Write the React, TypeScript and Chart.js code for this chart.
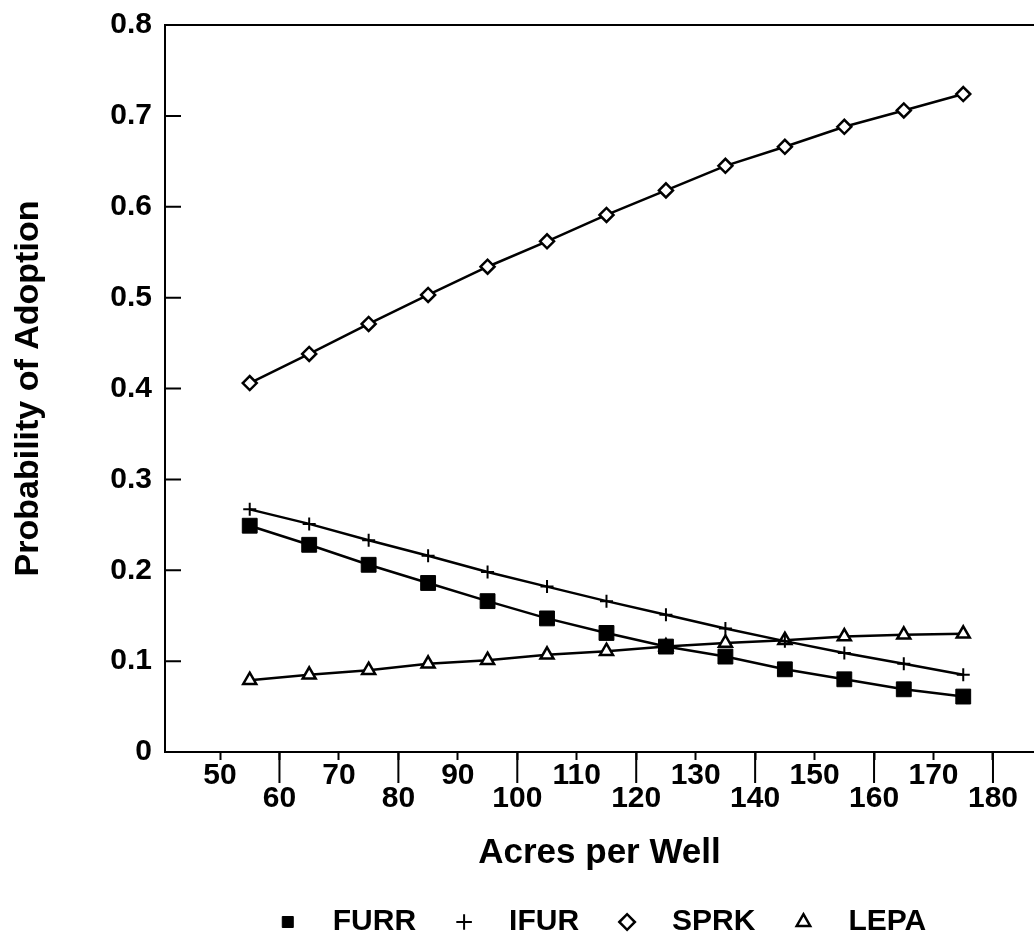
import React, { useEffect, useRef } from 'react';
import { Chart, registerables } from 'chart.js';

Chart.register(...registerables);

const acresPerWell = [55, 65, 75, 85, 95, 105, 115, 125, 135, 145, 155, 165, 175];
const furrValues = [0.249, 0.228, 0.206, 0.186, 0.166, 0.147, 0.131, 0.116, 0.105, 0.091, 0.080, 0.069, 0.061];
const ifurValues = [0.267, 0.251, 0.233, 0.216, 0.198, 0.182, 0.166, 0.151, 0.136, 0.122, 0.109, 0.097, 0.085];
const sprkValues = [0.406, 0.438, 0.471, 0.503, 0.534, 0.562, 0.591, 0.618, 0.645, 0.666, 0.688, 0.706, 0.724];
const lepaValues = [0.079, 0.085, 0.090, 0.097, 0.101, 0.107, 0.111, 0.116, 0.120, 0.123, 0.127, 0.129, 0.130];
const seriesNames = ['FURR', 'IFUR', 'SPRK', 'LEPA'];
const xAxisTitle = 'Acres per Well';
const yAxisTitle = 'Probability of Adoption';

const FONT = '"Liberation Sans", Arial, Helvetica, sans-serif';
const W = 1034;
const H = 950;

const toPoints = (vals: number[]) => acresPerWell.map((x, i) => ({ x, y: vals[i] }));

const framePlugin = {
  id: 'frameTicks',
  afterDraw(chart: any) {
    const { ctx, chartArea, scales } = chart;
    const { left, right, top, bottom } = chartArea;
    ctx.save();
    ctx.strokeStyle = '#000';
    ctx.lineWidth = 2;
    ctx.beginPath();
    ctx.moveTo(left - 1, top);
    ctx.lineTo(right, top);
    scales.y.ticks.forEach((t: any) => {
      const py = scales.y.getPixelForValue(t.value);
      ctx.moveTo(left, py);
      ctx.lineTo(left + 16, py);
    });
    scales.x.ticks.forEach((t: any) => {
      if (Math.round(t.value / 10) % 2 === 0) {
        const px = scales.x.getPixelForValue(t.value);
        ctx.moveTo(px, bottom);
        ctx.lineTo(px, bottom + 31);
      }
    });
    ctx.stroke();
    ctx.restore();
  },
};

export default function App() {
  const canvasRef = useRef<HTMLCanvasElement | null>(null);

  useEffect(() => {
    if (!canvasRef.current) return;
    const common = {
      borderColor: '#000',
      borderWidth: 2.5,
      pointBorderColor: '#000',
      tension: 0,
      fill: false,
    };
    const chart = new Chart(canvasRef.current, {
      type: 'line',
      data: {
        datasets: [
          {
            ...common,
            label: seriesNames[0],
            data: toPoints(furrValues),
            pointStyle: 'rect',
            pointRadius: 10.5,
            pointBackgroundColor: '#000',
            pointBorderWidth: 1,
          },
          {
            ...common,
            label: seriesNames[1],
            data: toPoints(ifurValues),
            pointStyle: 'cross',
            pointRadius: 6.5,
            pointBackgroundColor: '#000',
            pointBorderWidth: 2,
          },
          {
            ...common,
            label: seriesNames[2],
            data: toPoints(sprkValues),
            pointStyle: 'rectRot',
            pointRadius: 7,
            pointBackgroundColor: '#fff',
            pointBorderWidth: 2.5,
          },
          {
            ...common,
            label: seriesNames[3],
            data: toPoints(lepaValues),
            pointStyle: 'triangle',
            pointRadius: 7.5,
            pointBackgroundColor: '#fff',
            pointBorderWidth: 2.5,
          },
        ] as any,
      },
      options: {
        animation: false,
        responsive: false,
        maintainAspectRatio: false,
        layout: { autoPadding: false, padding: { top: 25, right: 0, bottom: 3, left: 0 } },
        plugins: {
          tooltip: { enabled: false },
          legend: {
            position: 'bottom',
            fullSize: false,
            labels: {
              usePointStyle: true,
              boxHeight: 11,
              padding: 33,
              color: '#000',
              font: { family: FONT, size: 30, weight: 'bold' },
              generateLabels: (c: any) =>
                (Chart.defaults.plugins.legend.labels as any)
                  .generateLabels(c)
                  .map((it: any) => ({ ...it, text: '\u2002' + it.text })),
            },
          },
        },
        scales: {
          x: {
            type: 'linear',
            min: 40.75,
            max: 186.9,
            afterFit: (s: any) => {
              s.height = 122;
            },
            border: { display: true, color: '#000', width: 2 },
            grid: {
              drawOnChartArea: false,
              drawTicks: true,
              tickLength: 8,
              tickColor: '#000',
              tickWidth: 2,
            },
            ticks: {
              stepSize: 10,
              includeBounds: false,
              autoSkip: false,
              maxRotation: 0,
              minRotation: 0,
              padding: 4,
              color: '#000',
              font: { family: FONT, size: 30, weight: 'bold', lineHeight: '23px' },
              callback: (v: any) => {
                const n = Number(v);
                return Math.round(n / 10) % 2 === 1 ? [String(n), ''] : ['', String(n)];
              },
            },
            title: {
              display: true,
              text: xAxisTitle,
              color: '#000',
              font: { family: FONT, size: 35, weight: 'bold' },
              padding: { top: 0, bottom: 0 },
            },
          },
          y: {
            type: 'linear',
            min: 0,
            max: 0.8,
            afterFit: (s: any) => {
              s.width = 165;
            },
            border: { display: true, color: '#000', width: 2 },
            grid: {
              drawOnChartArea: false,
              drawTicks: true,
              tickLength: 13,
              tickColor: 'rgba(0,0,0,0)',
            },
            ticks: {
              stepSize: 0.1,
              padding: 0,
              color: '#000',
              font: { family: FONT, size: 30, weight: 'bold' },
              callback: (v: any) => (Number(v) === 0 ? '0' : Number(v).toFixed(1)),
            },
            title: {
              display: true,
              text: yAxisTitle,
              color: '#000',
              font: { family: FONT, size: 34, weight: 'bold' },
              padding: { top: 8, bottom: 0 },
            },
          },
        },
      } as any,
      plugins: [framePlugin],
    });
    return () => chart.destroy();
  }, []);

  return (
    <div
      style={{
        position: 'absolute',
        left: 0,
        top: 0,
        width: W,
        height: H,
        overflow: 'hidden',
        background: '#fff',
      }}
    >
      <canvas ref={canvasRef} width={W} height={H} style={{ display: 'block', width: W, height: H }} />
    </div>
  );
}
